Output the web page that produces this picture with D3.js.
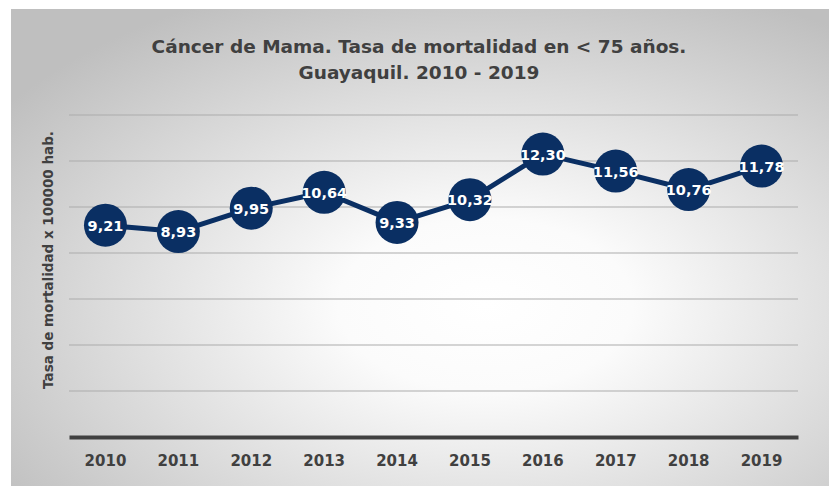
<!DOCTYPE html>
<html>
<head>
<meta charset="utf-8">
<script src="https://cdn.jsdelivr.net/npm/d3@7"></script>
<style>
  body { margin: 0; background: #fff; }
  text { font-family: "DejaVu Sans", sans-serif; }
</style>
</head>
<body>
<div id="chart"></div>
<script>
// data
var years = ["2010", "2011", "2012", "2013", "2014", "2015", "2016", "2017", "2018", "2019"];
var rates = [9.21, 8.93, 9.95, 10.64, 9.33, 10.32, 12.30, 11.56, 10.76, 11.78];
var yTicks = [0, 2, 4, 6, 8, 10, 12, 14];

var width = 832;
var height = 486;
var plotLeft = 69, plotRight = 798;
var plotTop = 115, plotBottom = 437;
var navy = "#0a2f63";
var grayText = "#404040";

var svg = d3.select("#chart")
    .append("svg")
    .attr("width", width)
    .attr("height", height);

// background radial gradient
var defs = svg.append("defs");
var grad = defs.append("radialGradient")
    .attr("id", "bg")
    .attr("cx", "58%")
    .attr("cy", "62%")
    .attr("r", "72%");
grad.append("stop").attr("offset", "0%").attr("stop-color", "#ffffff");
grad.append("stop").attr("offset", "25%").attr("stop-color", "#fbfbfb");
grad.append("stop").attr("offset", "100%").attr("stop-color", "#bfbfbf");

svg.append("rect")
    .attr("x", 11).attr("y", 9)
    .attr("width", 818).attr("height", 477)
    .attr("fill", "url(#bg)");

// scales
var x = d3.scaleBand()
    .domain(years)
    .range([plotLeft, plotRight]);

var y = d3.scaleLinear()
    .domain([0, 14])
    .range([plotBottom, plotTop]);

// grid lines
svg.append("g")
    .selectAll("line")
    .data(yTicks.slice(1))
    .enter()
    .append("line")
    .attr("x1", plotLeft)
    .attr("x2", plotRight)
    .attr("y1", function(d) { return y(d); })
    .attr("y2", function(d) { return y(d); })
    .attr("stroke", "#ababab")
    .attr("stroke-width", 1.2);

// x axis
var xAxis = svg.append("g")
    .attr("transform", "translate(0," + plotBottom + ")")
    .call(d3.axisBottom(x).tickSize(0).tickPadding(18));
xAxis.select(".domain")
    .attr("stroke", "#404040")
    .attr("stroke-width", 4);
xAxis.selectAll("text")
    .attr("font-size", 15)
    .attr("font-weight", "bold")
    .attr("fill", grayText)
    .style("font-family", "'DejaVu Sans', sans-serif");

// title
var title = svg.append("text")
    .attr("text-anchor", "middle")
    .attr("font-size", 18.5)
    .attr("font-weight", "bold")
    .attr("fill", grayText);
title.append("tspan").attr("x", 419).attr("y", 53)
    .text("Cáncer de Mama. Tasa de mortalidad en < 75 años.");
title.append("tspan").attr("x", 419).attr("y", 79)
    .text("Guayaquil. 2010 - 2019");

// y axis label
svg.append("text")
    .attr("transform", "translate(53," + 260 + ") rotate(-90)")
    .attr("text-anchor", "middle")
    .attr("font-size", 13.5)
    .attr("font-weight", "bold")
    .attr("fill", grayText)
    .text("Tasa de mortalidad x 100000 hab.");

// line
var points = years.map(function(d, i) { return { year: d, value: rates[i] }; });
var cx = function(d) { return x(d.year) + x.bandwidth() / 2; };

svg.append("path")
    .datum(points)
    .attr("fill", "none")
    .attr("stroke", navy)
    .attr("stroke-width", 5)
    .attr("stroke-linejoin", "round")
    .attr("d", d3.line().x(cx).y(function(d) { return y(d.value); }));

// markers
var marks = svg.append("g").selectAll("g")
    .data(points)
    .enter()
    .append("g");

marks.append("circle")
    .attr("cx", cx)
    .attr("cy", function(d) { return y(d.value); })
    .attr("r", 21.5)
    .attr("fill", navy);

marks.append("text")
    .attr("x", cx)
    .attr("y", function(d) { return y(d.value) + 5.5; })
    .attr("text-anchor", "middle")
    .attr("font-size", 14.5)
    .attr("font-weight", "bold")
    .attr("fill", "#ffffff")
    .text(function(d) { return d3.format(".2f")(d.value).replace(".", ","); });
</script>
</body>
</html>
